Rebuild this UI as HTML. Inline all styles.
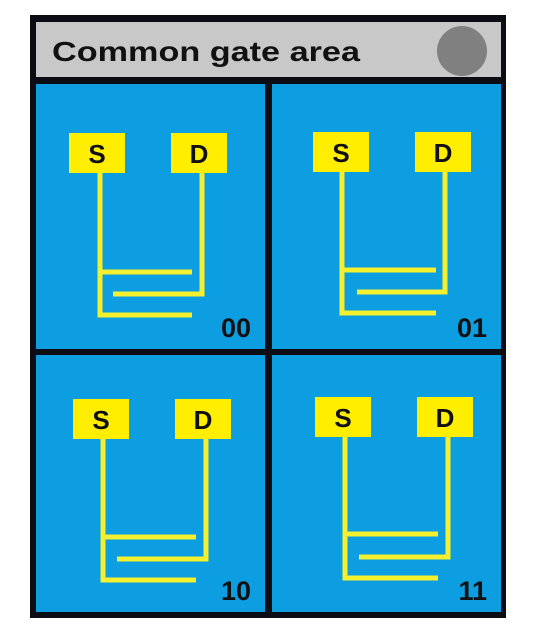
<!DOCTYPE html>
<html><head><meta charset="utf-8"><style>
html,body{margin:0;padding:0;background:#fff;width:536px;height:635px;overflow:hidden}
svg{display:block}
text{font-family:"Liberation Sans",sans-serif;font-weight:bold}
</style></head><body>
<svg width="536" height="635" viewBox="0 0 536 635">
<rect x="30" y="15" width="476" height="603" fill="#0c0c14"/>
<rect x="36" y="22" width="465" height="55" fill="#c8c8c8"/>
<text x="52" y="61" font-size="28" textLength="308" lengthAdjust="spacingAndGlyphs" fill="#111">Common gate area</text>
<circle cx="462" cy="51" r="25" fill="#808080"/>
<g id="cells"></g>
</svg>
<script>
const labels=["00","01","10","11"];
const cellX=[36,272,36,272], cellY=[84,84,355,355], cellW=[229,229,229,229], cellH=[265,265,257,257];
const sBoxX=[69,313,73,315], boxY=[133,132,399,397];
const sLineX=[100,342,103,345], dLineX=[202,445,206,448];
const lineY1=[272,270,537,534], lineY2=[294,292,559,557], lineY3=[315,313,580,578];
const lineEnd=[192,436,196,438], midStart=[113,357,117,359];
const NS="http://www.w3.org/2000/svg";
const g=document.getElementById('cells');
const Y="#f4f02e";
function mk(t,a){const e=document.createElementNS(NS,t);for(const k in a)e.setAttribute(k,a[k]);return e;}
labels.forEach((lab,i)=>{
  const cell=mk('g',{});
  
  
  const bg=mk('rect',{x:cellX[i],y:cellY[i],width:cellW[i],height:cellH[i],fill:"#0c9ee0"});
  
  
  cell.appendChild(bg);
  const sx=sLineX[i],dx=dLineX[i],by=boxY[i]+40;
  const p=mk('path',{d:`M${sx} ${by} V${lineY3[i]} H${lineEnd[i]} M${sx} ${lineY1[i]} H${lineEnd[i]} M${dx} ${by} V${lineY2[i]} H${midStart[i]}`,stroke:Y,"stroke-width":5,fill:"none"});
  
  
  cell.appendChild(p);
  [["S",sBoxX[i]],["D",sBoxX[i]+102]].forEach(([t,x])=>{
    const r=mk('rect',{x:x,y:boxY[i],width:56,height:40,fill:"#ffee00"});
    
    
    cell.appendChild(r);
    const tx=mk('text',{x:x+28,y:boxY[i]+30,"font-size":26,"text-anchor":"middle",fill:"#111"});
    tx.textContent=t;
    
    
    cell.appendChild(tx);
  });
  const lt=mk('text',{x:cellX[i]+cellW[i]-14,y:cellY[i]+cellH[i]-12,"font-size":27,"text-anchor":"end",fill:"#111"});
  lt.textContent=lab;
  
  
  cell.appendChild(lt);
  g.appendChild(cell);
});
</script>
</body></html>
